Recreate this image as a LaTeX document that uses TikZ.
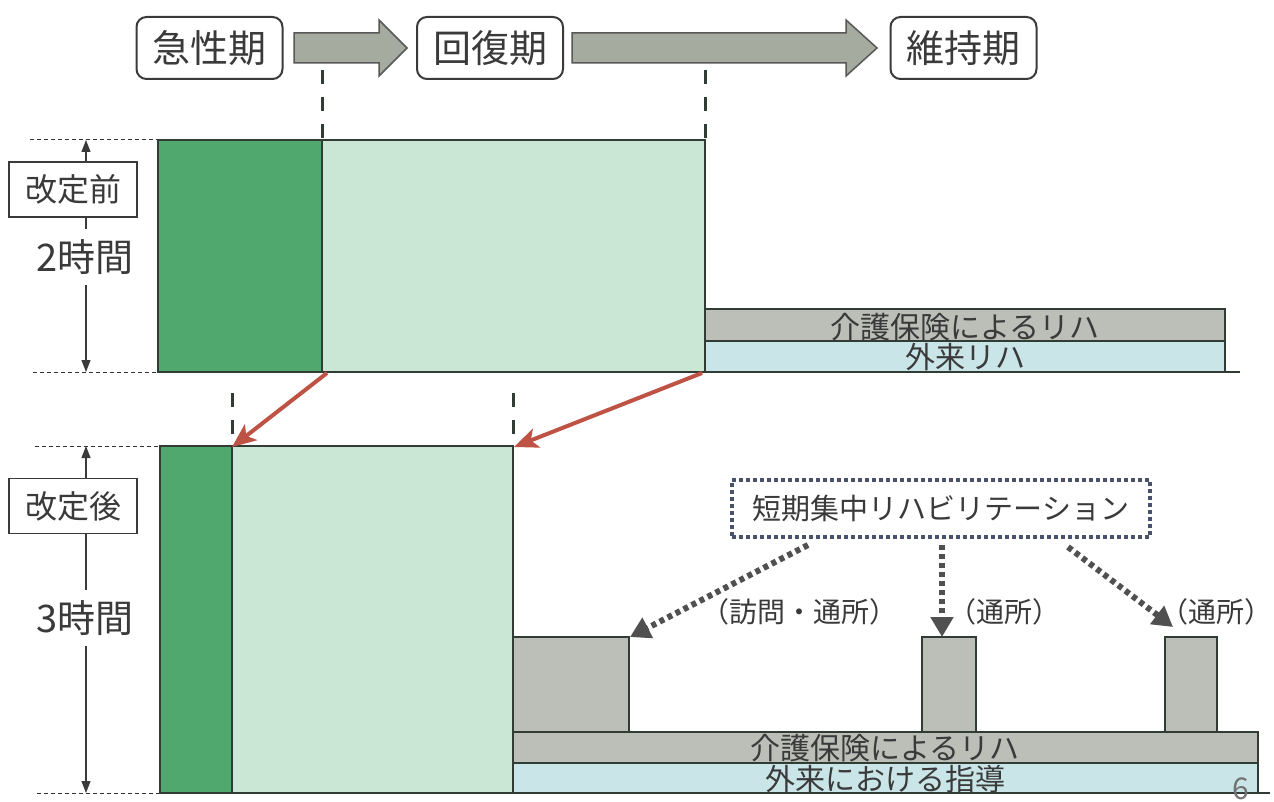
\documentclass[tikz,border=0pt]{standalone}
\usepackage{fontspec}
\setmainfont{Noto Sans CJK JP}
\usetikzlibrary{arrows.meta}
\definecolor{dkgreen}{RGB}{80,168,110}
\definecolor{ltgreen}{RGB}{202,231,213}
\definecolor{bargray}{RGB}{188,191,184}
\definecolor{barblue}{RGB}{202,229,231}
\definecolor{hdrgray}{RGB}{166,171,160}
\definecolor{edge}{RGB}{48,60,52}
\definecolor{txt}{RGB}{58,58,58}
\definecolor{redarrow}{RGB}{190,82,68}
\definecolor{dotblue}{RGB}{72,82,108}
\definecolor{dotgray}{RGB}{80,80,80}
\begin{document}
\begin{tikzpicture}[x=1pt,y=-1pt,
  hdrbox/.style={draw=txt, line width=2pt, rounded corners=10pt, fill=white, minimum width=146pt, minimum height=62pt, inner sep=0pt, text=txt, font=\fontsize{38}{42}\selectfont},
  hdrarrow/.style={fill=hdrgray, draw=txt!85, line width=1.5pt, line join=miter},
  greenA/.style={fill=dkgreen, draw=edge, line width=1.2pt},
  greenB/.style={fill=ltgreen, draw=edge, line width=1.2pt},
  graybar/.style={fill=bargray, draw=edge, line width=1.5pt},
  bluebar/.style={fill=barblue, draw=edge, line width=1.5pt},
  baseline/.style={draw=edge, line width=1.5pt},
  bartext/.style={text=txt, font=\fontsize{30}{32}\selectfont, inner sep=0pt},
  dashtop/.style={draw=edge, line width=3pt, dash pattern=on 14pt off 13pt},
  dashbar/.style={draw=edge, line width=2.5pt, dash pattern=on 10pt off 3pt},
  guide/.style={draw=black!80, line width=1pt, dash pattern=on 4pt off 3pt},
  varrow/.style={draw=txt, line width=1.2pt, {Triangle[length=12pt,width=9pt]}-{Triangle[length=12pt,width=9pt]}},
  sidebox/.style={draw=txt, line width=1.2pt, fill=white, minimum width=128pt, minimum height=55pt, inner sep=0pt, text=txt, font=\fontsize{32}{35}\selectfont},
  hours/.style={fill=white, text=txt, font=\fontsize{38}{42}\selectfont, inner xsep=2pt, inner ysep=10pt},
  redarr/.style={draw=redarrow, line width=4pt, -{Stealth[length=24pt,width=20pt,inset=6pt]}},
  dotbox/.style={draw=dotblue, line width=4pt, dash pattern=on 4pt off 3pt, fill=white, minimum width=418pt, minimum height=57pt, inner sep=0pt, text=txt, font=\fontsize{29}{32}\selectfont},
  dotarr/.style={draw=dotgray, line width=6pt, dash pattern=on 5pt off 4pt, -{Triangle[length=20pt,width=22pt]}},
  lbl/.style={text=txt, font=\fontsize{28}{30}\selectfont, inner sep=0pt},
]
\useasboundingbox (0,0) rectangle (1274,802);
\fill[white] (0,0) rectangle (1274,802);

% ---------- header ----------
\node[hdrbox] (acute) at (209.5,48) {急性期};
\node[hdrbox] (recov) at (490,48) {回復期};
\node[hdrbox] (maint) at (963.5,48) {維持期};
\draw[hdrarrow] (294,33) -- (379,33) -- (379,20) -- (407,48) -- (379,76) -- (379,63) -- (294,63) -- cycle;
\draw[hdrarrow] (572,33) -- (846,33) -- (846,20) -- (877,48) -- (846,76) -- (846,63) -- (572,63) -- cycle;

% ---------- top chart (before) ----------
\draw[greenA] (158,140) rectangle (322,372);
\draw[greenB] (322,140) rectangle (705,372);
\draw[graybar] (705,309) rectangle (1225,341);
\draw[bluebar] (705,341) rectangle (1225,372);
\draw[baseline] (158,372) -- (1240,372);
\node[bartext] (kaigoA) at (965,327) {介護保険によるリハ};
\node[bartext] (gairaiA) at (965,357) {外来リハ};

\draw[dashtop] (322,70) -- (322,140);
\draw[dashbar] (322,140) -- (322,372);
\draw[dashtop] (705,70) -- (705,140);
\draw[dashbar] (705,140) -- (705,372);

\draw[guide] (30,140) -- (158,140);
\draw[guide] (33,372) -- (158,372);
\coordinate (vaT) at (86,140);
\coordinate (vaB) at (86,372);
\draw[varrow] (vaT) -- (vaB);
\node[sidebox] (before) at (73,189.5) {改定前};
\node[hours] (two) at (85,257) {2時間};

% ---------- bottom chart (after) ----------
\draw[greenA] (160,446) rectangle (232,793);
\draw[greenB] (232,446) rectangle (513,793);
\draw[graybar] (513,637) rectangle (629,732);
\draw[graybar] (922,637) rectangle (976,732);
\draw[graybar] (1165,637) rectangle (1217,732);
\draw[graybar] (513,732) rectangle (1258,763);
\draw[bluebar] (513,763) rectangle (1258,793);
\draw[baseline] (160,793) -- (1270,793);
\node[bartext] (kaigoB) at (885,748) {介護保険によるリハ};
\node[bartext] (gairaiB) at (885,779) {外来における指導};

\draw[dashtop] (232,393) -- (232,436);
\draw[dashtop] (513,393) -- (513,436);
\draw[dashbar] (232,446) -- (232,793);
\draw[dashbar] (513,446) -- (513,793);

\draw[guide] (35,446) -- (160,446);
\draw[guide] (37,793) -- (160,793);
\coordinate (vbT) at (86,446);
\coordinate (vbB) at (86,793);
\draw[varrow] (vbT) -- (vbB);
\node[sidebox] (after) at (73,506) {改定後};
\node[hours] (three) at (85,618) {3時間};

% ---------- red shift arrows ----------
\coordinate (r1s) at (327,373);
\coordinate (r1e) at (232,447);
\coordinate (r2s) at (702,373);
\coordinate (r2e) at (514,447);
\draw[redarr] (r1s) -- (r1e);
\draw[redarr] (r2s) -- (r2e);

% ---------- short-term intensive rehab ----------
\node[dotbox] (short) at (941,508.5) {短期集中リハビリテーション};
\coordinate (s1) at (808,545);
\coordinate (s2) at (942,545);
\coordinate (s3) at (1068,547);
\coordinate (t1) at (630,637);
\coordinate (t2) at (942,637);
\coordinate (t3) at (1173,627);
\draw[dotarr] (s1) -- (t1);
\draw[dotarr] (s2) -- (t2);
\draw[dotarr] (s3) -- (t3);
\node[lbl] (l1) at (799,612) {（訪問・通所）};
\node[lbl] (l2) at (1004,612) {（通所）};
\node[lbl] (l3) at (1216,612) {（通所）};

\node[text=black!55, font=\fontsize{30}{32}\selectfont, inner sep=0pt] (page) at (1241,789) {6};
\end{tikzpicture}
\end{document}
